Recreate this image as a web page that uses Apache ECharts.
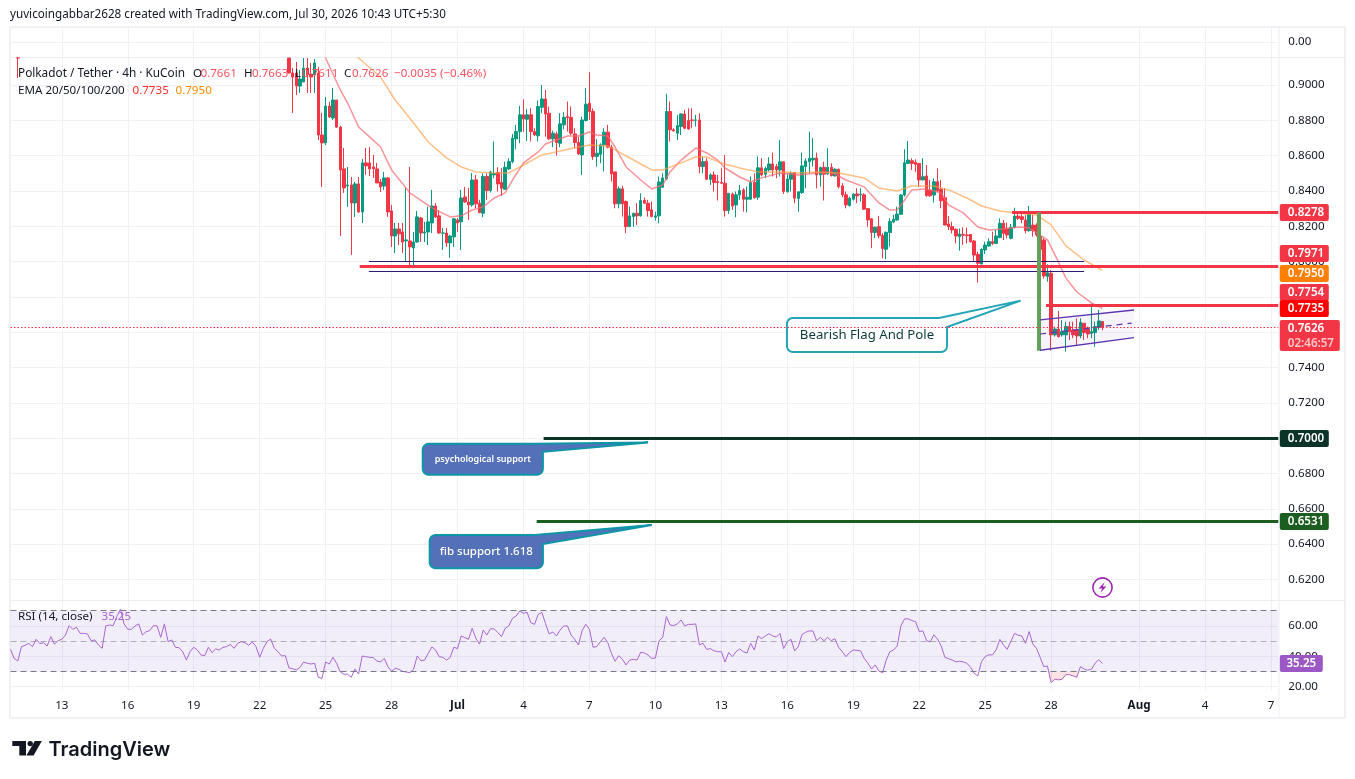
<!DOCTYPE html>
<html>
<head>
<meta charset="utf-8">
<title>Polkadot / Tether 4h</title>
<script src="https://cdn.jsdelivr.net/npm/echarts@6/dist/echarts.min.js"></script>
<style>
  html, body { margin: 0; padding: 0; background: #ffffff; }
  #chart { width: 1355px; height: 779px; }
</style>
</head>
<body>
<div id="chart"></div>
<script>
// 4h bars on the time axis: bar 0 is 10 Jun 16:00, bar 346 is the last slot on the right.
const barCount = 347;
const dayTickBars = [14, 32, 50, 68, 86, 104, 122, 140, 158, 176, 194, 212, 230, 248, 266, 284, 308, 326, 344];
const dayTickLabels = ['13', '16', '19', '22', '25', '28', 'Jul', '4', '7', '10', '13', '16', '19', '22', '25', '28', 'Aug', '4', '7'];
const priceTicks = [0.62, 0.64, 0.66, 0.68, 0.70, 0.72, 0.74, 0.76, 0.78, 0.80, 0.82, 0.84, 0.86, 0.88, 0.90];
const rsiTicks = [20, 40, 60];
const rsiBands = [70, 50, 30];
const priceMin = 0.60838;
const priceMax = 0.91529;

// The one visible older bar: its body sits above the visible price range, only the low wick shows.
const earlyCandleBar = 2;
const earlyCandle = [0.9420, 0.9380, 0.9040, 0.9450];

// Candles [open, close, low, high], starting at bar 76.
const firstCandleBar = 76;
const candles = [
  [0.9200,0.9068,0.9066,0.9300],[0.9068,0.9045,0.8842,0.9096],[0.9068,0.8994,0.8943,0.9130],[0.8994,0.9034,0.8955,0.9085],
  [0.9017,0.9096,0.9017,0.9170],[0.9096,0.9057,0.8955,0.9170],[0.9062,0.9045,0.8955,0.9125],[0.9057,0.9125,0.8955,0.9147],
  [0.9068,0.8717,0.8689,0.9102],[0.8717,0.8672,0.8423,0.8842],[0.8672,0.8881,0.8660,0.8932],[0.8881,0.8819,0.8813,0.8904],
  [0.8813,0.8915,0.8802,0.8983],[0.8915,0.8762,0.8757,0.8915],[0.8762,0.8519,0.8145,0.8768],[0.8525,0.8417,0.8389,0.8643],
  [0.8428,0.8434,0.8310,0.8536],[0.8434,0.8332,0.8038,0.8479],[0.8332,0.8440,0.8253,0.8451],[0.8440,0.8281,0.8276,0.8479],
  [0.8281,0.8559,0.8219,0.8581],[0.8559,0.8542,0.8491,0.8643],[0.8559,0.8525,0.8485,0.8649],[0.8536,0.8525,0.8474,0.8604],
  [0.8525,0.8445,0.8445,0.8559],[0.8451,0.8423,0.8394,0.8468],[0.8428,0.8474,0.8406,0.8508],[0.8474,0.8281,0.8253,0.8479],
  [0.8287,0.8145,0.8083,0.8321],[0.8145,0.8185,0.8049,0.8219],[0.8185,0.8157,0.8094,0.8219],[0.8168,0.8111,0.8049,0.8219],
  [0.8117,0.8123,0.7998,0.8417],[0.8117,0.8083,0.7970,0.8536],[0.8077,0.8111,0.7970,0.8168],[0.8111,0.8253,0.8106,0.8287],
  [0.8247,0.8162,0.8111,0.8253],[0.8162,0.8168,0.8111,0.8225],[0.8168,0.8225,0.8094,0.8310],[0.8219,0.8315,0.8162,0.8406],
  [0.8315,0.8253,0.8247,0.8332],[0.8259,0.8162,0.8157,0.8292],[0.8161,0.8162,0.8066,0.8191],[0.8162,0.8106,0.8083,0.8191],
  [0.8106,0.8145,0.8021,0.8151],[0.8140,0.8242,0.8083,0.8247],[0.8236,0.8219,0.8168,0.8247],[0.8225,0.8360,0.8066,0.8406],
  [0.8366,0.8338,0.8332,0.8423],[0.8338,0.8321,0.8236,0.8417],[0.8321,0.8462,0.8310,0.8502],[0.8463,0.8327,0.8302,0.8491],
  [0.8331,0.8278,0.8274,0.8350],[0.8274,0.8482,0.8251,0.8500],[0.8482,0.8402,0.8350,0.8500],[0.8402,0.8508,0.8391,0.8514],
  [0.8491,0.8500,0.8472,0.8680],[0.8504,0.8440,0.8397,0.8534],[0.8448,0.8415,0.8372,0.8529],[0.8410,0.8534,0.8406,0.8566],
  [0.8525,0.8566,0.8519,0.8585],[0.8566,0.8699,0.8557,0.8723],[0.8695,0.8736,0.8636,0.8774],[0.8736,0.8831,0.8670,0.8882],
  [0.8831,0.8808,0.8736,0.8919],[0.8806,0.8831,0.8683,0.8863],[0.8831,0.8736,0.8680,0.8868],[0.8736,0.8717,0.8712,0.8755],
  [0.8712,0.8878,0.8680,0.8912],[0.8874,0.8921,0.8840,0.9000],[0.8921,0.8836,0.8708,0.8972],[0.8840,0.8695,0.8689,0.8878],
  [0.8695,0.8727,0.8648,0.8742],[0.8723,0.8674,0.8600,0.8736],[0.8670,0.8780,0.8648,0.8840],[0.8774,0.8817,0.8749,0.8846],
  [0.8821,0.8816,0.8736,0.8906],[0.8817,0.8727,0.8717,0.8878],[0.8723,0.8674,0.8642,0.8755],[0.8674,0.8610,0.8604,0.8708],
  [0.8604,0.8802,0.8491,0.8821],[0.8799,0.8891,0.8793,0.8982],[0.8897,0.8850,0.8802,0.9072],[0.8850,0.8595,0.8576,0.8868],
  [0.8595,0.8614,0.8538,0.8693],[0.8608,0.8661,0.8557,0.8670],[0.8661,0.8733,0.8510,0.8755],[0.8733,0.8648,0.8642,0.8774],
  [0.8648,0.8497,0.8453,0.8661],[0.8508,0.8327,0.8302,0.8508],[0.8327,0.8412,0.8302,0.8425],[0.8412,0.8327,0.8255,0.8429],
  [0.8340,0.8198,0.8161,0.8346],[0.8198,0.8259,0.8198,0.8312],[0.8255,0.8274,0.8198,0.8274],[0.8274,0.8259,0.8208,0.8331],
  [0.8259,0.8346,0.8255,0.8387],[0.8346,0.8331,0.8327,0.8363],[0.8331,0.8289,0.8255,0.8350],[0.8293,0.8255,0.8251,0.8340],
  [0.8251,0.8259,0.8232,0.8283],[0.8259,0.8451,0.8217,0.8482],[0.8421,0.8474,0.8416,0.8500],[0.8468,0.8850,0.8463,0.8950],
  [0.8850,0.8746,0.8680,0.8906],[0.8746,0.8740,0.8736,0.8755],[0.8727,0.8770,0.8689,0.8831],[0.8765,0.8836,0.8717,0.8840],
  [0.8836,0.8755,0.8749,0.8859],[0.8799,0.8751,0.8746,0.8868],[0.8802,0.8800,0.8755,0.8868],[0.8800,0.8802,0.8765,0.8831],
  [0.8802,0.8538,0.8500,0.8840],[0.8538,0.8566,0.8500,0.8595],[0.8568,0.8466,0.8463,0.8585],[0.8466,0.8491,0.8434,0.8500],
  [0.8491,0.8448,0.8397,0.8510],[0.8453,0.8448,0.8346,0.8491],[0.8448,0.8444,0.8440,0.8529],[0.8444,0.8289,0.8255,0.8604],
  [0.8289,0.8387,0.8270,0.8387],[0.8383,0.8315,0.8293,0.8391],[0.8321,0.8378,0.8251,0.8397],[0.8378,0.8402,0.8350,0.8434],
  [0.8406,0.8353,0.8283,0.8415],[0.8353,0.8365,0.8278,0.8425],[0.8353,0.8448,0.8350,0.8482],[0.8448,0.8361,0.8357,0.8500],
  [0.8365,0.8531,0.8350,0.8595],[0.8531,0.8491,0.8482,0.8585],[0.8495,0.8527,0.8472,0.8538],[0.8519,0.8553,0.8510,0.8591],
  [0.8553,0.8519,0.8482,0.8617],[0.8538,0.8519,0.8472,0.8553],[0.8519,0.8565,0.8482,0.8689],[0.8565,0.8397,0.8383,0.8566],
  [0.8395,0.8468,0.8391,0.8500],[0.8466,0.8500,0.8397,0.8510],[0.8504,0.8359,0.8331,0.8508],[0.8357,0.8395,0.8283,0.8397],
  [0.8391,0.8542,0.8383,0.8617],[0.8538,0.8570,0.8415,0.8585],[0.8566,0.8585,0.8500,0.8736],[0.8576,0.8585,0.8538,0.8699],
  [0.8587,0.8491,0.8415,0.8617],[0.8491,0.8532,0.8425,0.8538],[0.8534,0.8495,0.8346,0.8566],[0.8497,0.8534,0.8491,0.8642],
  [0.8534,0.8487,0.8482,0.8557],[0.8485,0.8523,0.8482,0.8529],[0.8523,0.8425,0.8415,0.8527],[0.8429,0.8378,0.8365,0.8444],
  [0.8378,0.8321,0.8302,0.8397],[0.8317,0.8359,0.8312,0.8368],[0.8353,0.8382,0.8346,0.8387],[0.8383,0.8372,0.8331,0.8415],
  [0.8378,0.8382,0.8340,0.8415],[0.8378,0.8297,0.8293,0.8387],[0.8300,0.8236,0.8198,0.8302],[0.8242,0.8165,0.8076,0.8246],
  [0.8165,0.8195,0.8132,0.8198],[0.8198,0.8146,0.8132,0.8259],[0.8148,0.8074,0.8019,0.8161],[0.8070,0.8166,0.8014,0.8170],
  [0.8165,0.8227,0.8085,0.8246],[0.8225,0.8240,0.8217,0.8265],[0.8236,0.8269,0.8232,0.8311],[0.8268,0.8377,0.8264,0.8383],
  [0.8377,0.8560,0.8368,0.8636],[0.8556,0.8575,0.8556,0.8683],[0.8571,0.8556,0.8519,0.8585],[0.8562,0.8551,0.8509,0.8579],
  [0.8556,0.8462,0.8424,0.8556],[0.8462,0.8481,0.8462,0.8585],[0.8485,0.8373,0.8368,0.8547],[0.8405,0.8373,0.8368,0.8462],
  [0.8377,0.8452,0.8334,0.8471],[0.8452,0.8402,0.8396,0.8528],[0.8409,0.8345,0.8302,0.8462],[0.8362,0.8207,0.8207,0.8415],
  [0.8213,0.8198,0.8179,0.8258],[0.8198,0.8179,0.8160,0.8226],[0.8183,0.8145,0.8103,0.8188],[0.8141,0.8156,0.8062,0.8188],
  [0.8154,0.8149,0.8094,0.8194],[0.8151,0.8147,0.8103,0.8192],[0.8154,0.8113,0.8107,0.8156],[0.8117,0.8037,0.7999,0.8122],
  [0.8041,0.7990,0.7881,0.8056],[0.7986,0.8069,0.7986,0.8075],[0.8066,0.8094,0.8043,0.8113],[0.8088,0.8113,0.8085,0.8132],
  [0.8113,0.8103,0.8094,0.8169],[0.8103,0.8145,0.8100,0.8179],[0.8137,0.8217,0.8132,0.8245],[0.8217,0.8160,0.8122,0.8236],
  [0.8188,0.8151,0.8132,0.8220],[0.8132,0.8194,0.8126,0.8213],[0.8194,0.8258,0.8188,0.8305],[0.8258,0.8245,0.8236,0.8283],
  [0.8254,0.8239,0.8217,0.8268],[0.8236,0.8175,0.8160,0.8264],[0.8175,0.8277,0.8169,0.8315],[0.8207,0.8175,0.8141,0.8264],
  [0.8207,0.8151,0.8141,0.8217],[0.8145,0.8069,0.7990,0.8207],[0.8122,0.7919,0.7905,0.8132],[0.7915,0.7937,0.7886,0.7985],
  [0.7934,0.7585,0.7496,0.7952],[0.7585,0.7618,0.7575,0.7632],[0.7618,0.7575,0.7571,0.7720],[0.7585,0.7603,0.7575,0.7669],
  [0.7585,0.7632,0.7490,0.7660],[0.7632,0.7603,0.7556,0.7660],[0.7613,0.7585,0.7566,0.7660],[0.7613,0.7579,0.7528,0.7679],
  [0.7579,0.7656,0.7566,0.7679],[0.7651,0.7598,0.7556,0.7651],[0.7618,0.7590,0.7566,0.7632],[0.7594,0.7603,0.7566,0.7764],
  [0.7598,0.7632,0.7518,0.7660],[0.7628,0.7664,0.7613,0.7726],[0.7661,0.7626,0.7611,0.7663]
];

// Moving averages as [bar, value]; the parts above the visible range are clipped.
const ema20 = [
  [85,0.9198],[86,0.9153],[88,0.9062],[90,0.8972],[92,0.8898],[95,0.8762],[98,0.8706],[101,0.8649],[104,0.8519],
  [109,0.8389],[115,0.8304],[120,0.8253],[123,0.8259],[126,0.8292],[129,0.8310],[132,0.8360],[135,0.8389],[137,0.8462],
  [140,0.8559],[144,0.8621],[146,0.8666],[149,0.8689],[152,0.8711],[155,0.8711],[158,0.8734],[160,0.8717],[163,0.8711],
  [165,0.8649],[168,0.8536],[172,0.8462],[175,0.8411],[178,0.8434],[180,0.8508],[183,0.8575],[187,0.8643],[190,0.8615],
  [193,0.8575],[195,0.8530],[199,0.8479],[202,0.8451],[205,0.8474],[210,0.8502],[215,0.8491],[220,0.8502],[224,0.8508],
  [228,0.8462],[233,0.8423],[237,0.8332],[240,0.8292],[242,0.8292],[244,0.8349],[246,0.8406],[250,0.8411],[254,0.8389],
  [256,0.8321],[260,0.8276],[264,0.8196],[267,0.8179],[271,0.8185],[275,0.8196],[278,0.8191],[280,0.8162],[283,0.8123],
  [286,0.7998],[288,0.7908],[291,0.7828],[295,0.7766],[298,0.7735]
];
const ema50 = [
  [93,0.9198],[95,0.9153],[101,0.9045],[105,0.8915],[110,0.8785],[114,0.8677],[119,0.8587],[123,0.8536],[127,0.8508],
  [132,0.8502],[136,0.8502],[140,0.8547],[145,0.8604],[150,0.8626],[155,0.8649],[158,0.8660],[163,0.8655],[166,0.8621],
  [171,0.8564],[175,0.8519],[178,0.8519],[183,0.8559],[187,0.8592],[190,0.8592],[194,0.8559],[199,0.8530],[204,0.8508],
  [211,0.8508],[215,0.8502],[220,0.8508],[226,0.8502],[233,0.8474],[237,0.8417],[242,0.8400],[246,0.8428],[252,0.8428],
  [256,0.8406],[261,0.8360],[265,0.8315],[270,0.8287],[274,0.8276],[280,0.8264],[284,0.8208],[288,0.8089],[293,0.8009],
  [298,0.7950]
];

// RSI(14) for every bar from bar 0 to the last candle.
const rsi = [
  44.5,38.6,36.9,46.3,47.2,48.5,46.3,51.1,48.3,48.9,46.7,52.9,48,50.2,51.1,53.9,60.1,57.7,59,55,
  55,54.6,50.2,50.7,47.4,45.2,59.9,60.5,60.1,66,70.8,61.2,57.7,57.7,59.9,61.2,53.9,56.1,56.8,60.1,
  59.9,52.4,61.2,49.6,50.7,45.9,45.6,43,37.5,43,45.9,44.1,40.8,40.4,45.9,42.4,44.8,44.1,45.9,46.3,
  47.8,45.2,48.5,49.6,48.9,47.2,49.4,46.3,39.3,45.2,49.6,51.3,45.2,43,40.2,40.4,32.3,31.9,31,32.7,
  36.2,35.4,34.9,35.4,26.2,25.5,36.2,34.9,39.3,35.4,29.7,28.2,28.2,26.2,31.6,28.4,40.2,39.7,39.3,39.1,
  36.9,36.2,38.6,33.2,30.1,32.1,31.4,30.1,29.7,29.2,31.4,40.2,37.1,37.5,41.9,46.1,44.1,39.7,39.3,37.5,
  39.3,45.9,45,53.3,52.2,51.1,58.3,51.8,48,57.2,53.9,58.1,57.9,55.5,52.9,58.3,59.9,64.9,66.4,69.7,
  68.2,68.8,62,60.9,67.3,68.8,61.6,54.6,55.9,53.3,57.2,59.9,59.9,53.9,51.1,47.4,56.8,60.9,57.7,45.9,
  46.3,49.6,52.4,48.9,41.9,36.7,40.4,38,34.3,37.5,38,37.5,42.6,42.1,40.8,38.6,38.9,50.2,52.4,66,
  60.5,60.1,61.2,63.8,59.9,60.9,60.9,61.2,47.4,48.5,44.5,45,43.5,43,43,36.2,42.4,39.7,43,44.8,
  43,42.1,48.5,44.1,53.3,51.5,53.3,54.8,53.3,52.6,55,45,49.6,51.1,43.5,46.3,54.2,55.7,56.6,56.6,
  50.2,52.4,50.2,52.4,50.2,51.5,45.9,43,39.7,42.4,44.1,43.9,43.5,38.6,35.4,31.6,34.3,30.3,29.2,37.5,
  43,44.1,46.7,60,64.5,64.5,63.4,62.7,56.2,56.6,50.3,49.4,54,51.3,46.8,39.3,38.4,37.6,36.3,36.7,
  36.3,35.4,32.8,28.8,27.1,36.5,39.8,40.9,40.9,44.1,51.1,47.4,44.6,49.6,55,53.8,53.3,48.5,56.2,48.1,
  45.2,39.3,33.2,33.6,22.7,24.9,24.5,24.9,27.9,27.9,27.1,26.2,33.2,31.7,30.8,31.5,35.4,37.8,35.25
];

// Price levels drawn across the chart.
const resistanceHigh = 0.8278;
const resistanceMid = 0.7971;
const resistanceLow = 0.7754;
const boxUpper = 0.7998;
const boxLower = 0.7942;
const psychologicalSupport = 0.7000;
const fibSupport = 0.6531;
const lastPrice = 0.7626;
const lastEma20 = 0.7735;
const lastEma50 = 0.7950;
const lastRsi = 35.25;
const poleTop = 0.8278;
const poleBottom = 0.7495;
const flagTop = [0.7670, 0.7726];
const flagMid = [0.7590, 0.7652];
const flagBottom = [0.7498, 0.7569];

const FONT = '"Noto Sans", "Open Sans", sans-serif';
const UP = '#089981', DOWN = '#f23645', GRID = '#f0f1f3', INK = '#131722';
const TEAL = '#0e96a8', BLUE = '#5470b8';

const categories = [];
for (let i = 0; i < barCount; i++) {
  categories.push(new Date(Date.UTC(2026, 5, 10, 16 + 4 * i)).toISOString().slice(0, 16));
}
// Bars that run above the pane are cut at its top edge.
const topClamp = c => c.map(v => Math.min(v, priceMax));
const candleSeries = categories.map(() => ['-', '-', '-', '-']);
candleSeries[earlyCandleBar] = topClamp(earlyCandle);
candles.forEach((c, i) => { candleSeries[firstCandleBar + i] = topClamp(c); });

const isTickBar = i => dayTickBars.indexOf(i) >= 0;

// Converts a possibly fractional bar index and a value to pixels through the axes.
function pt(api, bar, value) {
  const base = Math.floor(bar);
  const p = api.coord([base, value]);
  return [p[0] + (bar - base) * api.size([1, 0])[0], p[1]];
}
function seg(api, a, b, color, width, dash) {
  const p = pt(api, a[0], a[1]), q = pt(api, b[0], b[1]);
  // Keep level lines crisp on the pixel grid.
  if (a[1] === b[1]) {
    const odd = Math.round(width) % 2 === 1;
    const y = odd ? Math.floor(p[1]) + 0.5 : Math.round(p[1]);
    p[1] = q[1] = y;
  }
  return {
    type: 'line',
    shape: { x1: p[0], y1: p[1], x2: q[0], y2: q[1] },
    style: { stroke: color, lineWidth: width, lineDash: dash || null, fill: null }
  };
}
// Rounded box whose top-right corner is replaced by a pointer towards the tip.
function callout(api, box, tip, base1, base2, fill, stroke, lineWidth, text, textColor, font) {
  const tl = pt(api, box[0], box[1]), br = pt(api, box[2], box[3]);
  const t = pt(api, tip[0], tip[1]);
  const b1 = pt(api, base1, box[1]), b2 = pt(api, box[2], base2);
  const r = 6, points = [];
  const arc = (cx, cy, from) => {
    for (let k = 0; k <= 6; k++) {
      const ang = from + k * Math.PI / 12;
      points.push([cx + r * Math.cos(ang), cy + r * Math.sin(ang)]);
    }
  };
  arc(tl[0] + r, tl[1] + r, Math.PI);
  points.push(b1, t, b2);
  arc(br[0] - r, br[1] - r, 0);
  arc(tl[0] + r, br[1] - r, Math.PI / 2);
  return {
    type: 'group',
    children: [
      { type: 'polygon', shape: { points }, style: { fill, stroke, lineWidth } },
      { type: 'text', style: { x: (tl[0] + br[0]) / 2, y: (tl[1] + br[1]) / 2, text, fill: textColor, font, align: 'center', verticalAlign: 'middle' } }
    ]
  };
}
function priceTag(api, value, nudge, color, text, sub) {
  const p = api.coord([0, value]);
  const x = api.coord([barCount - 1, value])[0] + 1.5;
  const h = sub ? 31 : 17, w = sub ? 60 : 49;
  const y = Math.round(p[1] + nudge - h / 2);
  const kids = [
    { type: 'rect', shape: { x, y, width: w, height: h, r: 2 }, style: { fill: color } },
    { type: 'text', style: { x: x + 8, y: y + 9, text, fill: '#ffffff', font: '600 11.6px ' + FONT, verticalAlign: 'middle' } }
  ];
  if (sub) {
    kids.push({ type: 'text', style: { x: x + 8, y: y + 23.5, text: sub, fill: 'rgba(255,255,255,0.72)', font: '600 11.6px ' + FONT, verticalAlign: 'middle' } });
  }
  return { type: 'group', children: kids };
}

const lastBar = barCount - 1;

function renderDrawings(params, api) {
  const kids = [];
  // Range box around the old support
  kids.push(seg(api, [97.8, boxUpper], [293, boxUpper], '#2f1a78', 1));
  kids.push(seg(api, [97.8, boxLower], [293, boxLower], '#2f1a78', 1));
  // Horizontal levels
  kids.push(seg(api, [95.3, resistanceMid], [lastBar, resistanceMid], DOWN, 3));
  kids.push(seg(api, [273.3, resistanceHigh], [lastBar, resistanceHigh], DOWN, 3));
  kids.push(seg(api, [282.6, resistanceLow], [lastBar, resistanceLow], DOWN, 3));
  kids.push(seg(api, [145.5, psychologicalSupport], [lastBar, psychologicalSupport], '#0b3327', 3));
  kids.push(seg(api, [143.6, fibSupport], [lastBar, fibSupport], '#1b5e20', 3));
  // Flag pole
  kids.push(seg(api, [280.7, poleTop], [280.7, poleBottom], '#63a05c', 4));
  // Flag channel
  const a = pt(api, 281, flagTop[0]), b = pt(api, 306.6, flagTop[1]);
  const c = pt(api, 306.6, flagBottom[1]), d = pt(api, 281, flagBottom[0]);
  kids.push({ type: 'polygon', shape: { points: [a, b, c, d] }, style: { fill: 'rgba(103,58,183,0.05)' } });
  kids.push(seg(api, [281, flagTop[0]], [306.6, flagTop[1]], '#5e35b1', 1.3));
  kids.push(seg(api, [281, flagBottom[0]], [306.6, flagBottom[1]], '#5e35b1', 1.3));
  kids.push(seg(api, [281, flagMid[0]], [306, flagMid[1]], '#5e35b1', 1.2, [6, 5]));
  // Callouts
  kids.push(callout(api, [211.9, 0.7681, 255.6, 0.7488], [275.7, 0.7779], 253.4, 0.7630,
    '#ffffff', '#22a5b5', 2, 'Bearish Flag And Pole', '#0b3a3a', '13.2px ' + FONT));
  kids.push(callout(api, [112.5, 0.6968, 145.3, 0.6793], [174, 0.6975], 143.1, 0.6923,
    BLUE, TEAL, 2, 'psychological support', '#ffffff', '600 9px ' + FONT));
  kids.push(callout(api, [114.4, 0.6452, 145.3, 0.6264], [175, 0.6509], 143.1, 0.6401,
    BLUE, TEAL, 2, 'fib support 1.618', '#ffffff', '500 11.5px ' + FONT));
  // Price scale tags
  kids.push(priceTag(api, resistanceHigh, 0, DOWN, '0.8278'));
  kids.push(priceTag(api, resistanceMid, -13, DOWN, '0.7971'));
  kids.push(priceTag(api, lastEma50, 3, '#ff7f00', '0.7950'));
  kids.push(priceTag(api, resistanceLow, -13, DOWN, '0.7754'));
  kids.push(priceTag(api, lastEma20, 0, '#ff0000', '0.7735'));
  kids.push(priceTag(api, lastPrice, 8, DOWN, '0.7626', '02:46:57'));
  kids.push(priceTag(api, psychologicalSupport, 0, '#0b3327', '0.7000'));
  kids.push(priceTag(api, fibSupport, 0, '#1b5e20', '0.6531'));
  return { type: 'group', children: kids };
}

function renderRsiExtras(params, api) {
  // Oversold shading on the last dip below 30
  const pts = [pt(api, 283.2, 30)];
  for (let i = 284; i <= 291; i++) pts.push(pt(api, i, Math.min(rsi[i], 30)));
  pts.push(pt(api, 291.5, 30));
  const p = api.coord([0, lastRsi]);
  const x = api.coord([lastBar, lastRsi])[0] + 1.5;
  return {
    type: 'group',
    children: [
      { type: 'polygon', shape: { points: pts }, style: { fill: 'rgba(242,54,69,0.14)' } },
      { type: 'rect', shape: { x, y: p[1] - 8.5, width: 43, height: 17, r: 2 }, style: { fill: '#9c59c6' } },
      { type: 'text', style: { x: x + 21.5, y: p[1] + 0.5, text: '35.25', fill: '#ffffff', font: '600 11.6px ' + FONT, align: 'center', verticalAlign: 'middle' } }
    ]
  };
}

const axisX = (extra) => Object.assign({
  type: 'category',
  data: categories,
  boundaryGap: false,
  axisLine: { show: false },
  axisTick: { show: false, interval: isTickBar },
  splitLine: { show: true, interval: isTickBar, lineStyle: { color: GRID, width: 1 } },
  axisLabel: { show: false }
}, extra);

const priceLabel = v => v.toFixed(4);
const scaleLabel = { color: INK, fontFamily: FONT, fontSize: 11.6, margin: 10, padding: [2, 0, 0, 0] };

const option = {
  animation: false,
  backgroundColor: '#ffffff',
  grid: [
    { left: 10.5, width: 1267.8, top: 58, height: 542 },
    { left: 10.5, width: 1267.8, top: 601, height: 89.5 },
    { left: 10.5, width: 1267.8, top: 27, height: 30 }
  ],
  xAxis: [
    axisX({ gridIndex: 0 }),
    axisX({
      gridIndex: 1,
      axisLabel: {
        show: true, interval: isTickBar, margin: 9,
        color: INK, fontFamily: FONT, fontSize: 11.6, hideOverlap: false,
        formatter: (value, index) => {
          const label = dayTickLabels[dayTickBars.indexOf(index)];
          return label === 'Jul' || label === 'Aug' ? '{b|' + label + '}' : label;
        },
        rich: { b: { fontWeight: 700, fontFamily: FONT, fontSize: 11.6, color: INK } }
      }
    }),
    axisX({ gridIndex: 2 })
  ],
  yAxis: [
    {
      gridIndex: 0, type: 'value', position: 'right', min: priceMin, max: priceMax, scale: true,
      axisLine: { show: false },
      axisTick: { show: false, customValues: priceTicks },
      splitLine: { show: true, lineStyle: { color: GRID } },
      axisLabel: Object.assign({ customValues: priceTicks, formatter: priceLabel }, scaleLabel)
    },
    {
      gridIndex: 1, type: 'value', position: 'right', min: 17.54, max: 76.23,
      axisLine: { show: false },
      axisTick: { show: false, customValues: rsiTicks },
      splitLine: { show: true, lineStyle: { color: GRID } },
      axisLabel: Object.assign({ customValues: rsiTicks, formatter: v => v.toFixed(2) }, scaleLabel)
    },
    {
      gridIndex: 2, type: 'value', position: 'right', min: -1, max: 1,
      axisLine: { show: false },
      axisTick: { show: false, customValues: [0] },
      splitLine: { show: true, lineStyle: { color: GRID } },
      axisLabel: Object.assign({ customValues: [0], formatter: v => v.toFixed(2) }, scaleLabel)
    }
  ],
  series: [
    {
      name: 'DOT/USDT', type: 'candlestick', xAxisIndex: 0, yAxisIndex: 0, z: 2,
      data: candleSeries, barWidth: 3, clip: true,
      itemStyle: { color: UP, color0: DOWN, borderColor: UP, borderColor0: DOWN, borderWidth: 1 },
      // Dotted line at the last price
      markLine: {
        silent: true, symbol: 'none', label: { show: false }, precision: 4,
        lineStyle: { color: '#ff3045', type: [1.5, 2], width: 1, opacity: 1 },
        data: [{ yAxis: lastPrice }]
      }
    },
    {
      name: 'EMA 20', type: 'line', xAxisIndex: 0, yAxisIndex: 0, z: 3, data: ema20, showSymbol: false, clip: true,
      lineStyle: { color: '#f66a72', width: 1.5, opacity: 0.72 }
    },
    {
      name: 'EMA 50', type: 'line', xAxisIndex: 0, yAxisIndex: 0, z: 3, data: ema50, showSymbol: false, clip: true,
      lineStyle: { color: '#ff9d45', width: 1.5, opacity: 0.65 }
    },
    {
      name: 'Drawings', type: 'custom', xAxisIndex: 0, yAxisIndex: 0, z: 4, silent: true,
      data: [[0, lastPrice]], renderItem: renderDrawings, clip: false
    },
    {
      name: 'RSI', type: 'line', xAxisIndex: 1, yAxisIndex: 1, z: 3, data: rsi, showSymbol: false,
      lineStyle: { color: '#a866d0', width: 1 },
      markArea: {
        silent: true, itemStyle: { color: 'rgba(126,87,194,0.1)' },
        data: [[{ yAxis: rsiBands[0] }, { yAxis: rsiBands[2] }]]
      },
      markLine: {
        silent: true, symbol: 'none', label: { show: false },
        lineStyle: { color: '#787b86', type: [6, 4], width: 1 },
        data: [
          { yAxis: rsiBands[0] },
          { yAxis: rsiBands[1], lineStyle: { opacity: 0.55 } },
          { yAxis: rsiBands[2] }
        ]
      }
    },
    {
      name: 'RSI extras', type: 'custom', xAxisIndex: 1, yAxisIndex: 1, z: 4, silent: true,
      data: [[0, lastRsi]], renderItem: renderRsiExtras, clip: false
    }
  ],
  graphic: { elements: buildFurniture() }
};

function txt(x, y, text, fill, size) {
  return { type: 'text', x, y, z: 50, silent: true, style: { text, fill, font: (size || 11.6) + 'px ' + FONT, verticalAlign: 'middle' } };
}

// Frame, legends, heading and logo.
function buildFurniture() {
  const R = '#f7525f', D = INK;
  const line = (x1, y1, x2, y2, color, w) => ({ type: 'line', z: 1, silent: true, shape: { x1, y1, x2, y2 }, style: { stroke: color, lineWidth: w } });
  return [
    { type: 'rect', z: 1, silent: true, shape: { x: 10, y: 27, width: 1335, height: 691 }, style: { fill: 'none', stroke: '#f0f1f4', lineWidth: 2 } },
    line(10, 57.5, 1345, 57.5, '#eceef2', 1),
    line(10, 600.5, 1345, 600.5, '#eceef2', 1),
    line(1279, 27, 1279, 718, '#eceef2', 1),

    txt(10, 15, 'yuvicoingabbar2628 created with TradingView.com, Jul 30, 2026 10:43 UTC+5:30', '#131722', 11.7),

    txt(18, 73.7, 'Polkadot / Tether · 4h · KuCoin', D, 11.8),
    txt(193, 73.7, 'O', D), txt(200.5, 73.7, '0.7661', R),
    txt(244, 73.7, 'H', D), txt(252, 73.7, '0.7663', R),
    txt(295, 73.7, 'L', D), txt(302, 73.7, '0.7611', R),
    txt(344, 73.7, 'C', D), txt(352, 73.7, '0.7626', R),
    txt(394, 73.7, '−0.0035 (−0.46%)', R),
    txt(18, 90.2, 'EMA 20/50/100/200', D),
    txt(132.5, 90.2, '0.7735', '#ff2a2a'),
    txt(175.5, 90.2, '0.7950', '#ff8c00'),

    txt(18, 616.2, 'RSI (14, close)', D),
    txt(101.5, 616.2, '35.25', '#a866d0'),

    // Alert marker
    { type: 'circle', z: 40, silent: true, shape: { cx: 1102.5, cy: 587.5, r: 9.6 }, style: { fill: '#ffffff', stroke: '#9c27b0', lineWidth: 1.6 } },
    { type: 'polygon', z: 41, silent: true, shape: { points: [[1104.8, 582], [1098.6, 588.6], [1102.2, 588.4], [1100.2, 593], [1106.4, 586.4], [1102.8, 586.6]] }, style: { fill: '#9c27b0' } },

    // Logo
    { type: 'polygon', silent: true, shape: { points: [[12.3, 741], [26, 741], [26, 755.5], [19.3, 755.5], [19.3, 746], [12.3, 746]] }, style: { fill: '#131722' } },
    { type: 'circle', silent: true, shape: { cx: 30.2, cy: 743.6, r: 2.7 }, style: { fill: '#131722' } },
    { type: 'polygon', silent: true, shape: { points: [[34.8, 741], [41.8, 741], [33.6, 755.5], [26.4, 755.5]] }, style: { fill: '#131722' } },
    { type: 'text', silent: true, x: 48.5, y: 749.5, style: { text: 'TradingView', fill: '#131722', font: '600 20px Inter, ' + FONT, verticalAlign: 'middle' } }
  ];
}

const chart = echarts.init(document.getElementById('chart'), null, { renderer: 'canvas' });
chart.setOption(option);
</script>
</body>
</html>
